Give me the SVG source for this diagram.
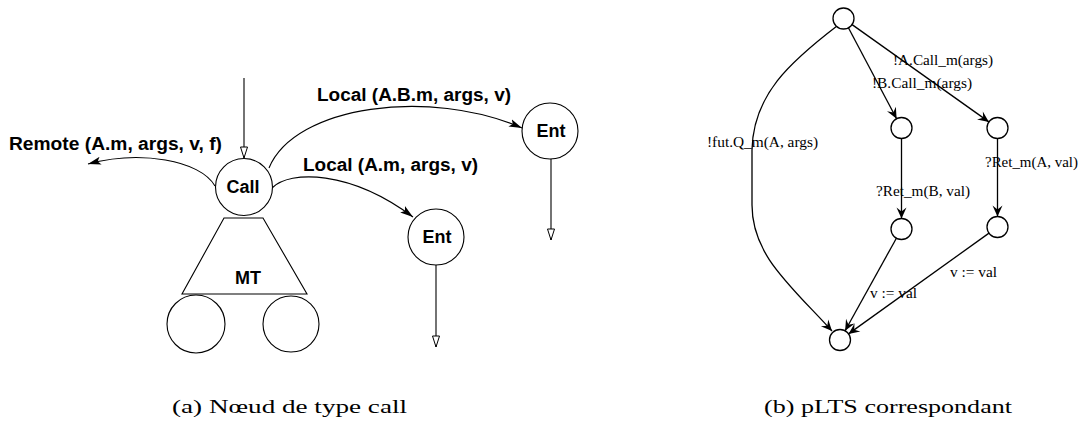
<svg xmlns="http://www.w3.org/2000/svg" width="1084" height="423" viewBox="0 0 1084 423">
<style>
  .node { fill: #fff; stroke: #000; stroke-width: 1.1; }
  .pnode { fill: #fff; stroke: #000; stroke-width: 1.3; }
  .edge { fill: none; stroke: #000; stroke-width: 1.1; }
  .pedge { fill: none; stroke: #000; stroke-width: 1.3; }
  .lbl { font-family: "Liberation Sans", Arial, sans-serif; font-weight: bold; font-size: 18px; fill: #000; }
  .tl { font-family: "Liberation Serif", "Times New Roman", serif; font-size: 15px; fill: #000; }
  .cap { font-family: "Liberation Serif", "Times New Roman", serif; font-size: 18px; fill: #000; }
</style>
<defs>
  <marker id="filled" markerUnits="userSpaceOnUse" viewBox="-13 -5 14 10" markerWidth="14" markerHeight="10" refX="0" refY="0" orient="auto">
    <path d="M0,0 L-13,-4 L-10,0 L-13,4 z" fill="#000"/>
  </marker>
  <marker id="open" markerUnits="userSpaceOnUse" viewBox="-13 -5 14 10" markerWidth="14" markerHeight="10" refX="0" refY="0" orient="auto">
    <path d="M0,0 L-11,-3.5 L-11,3.5 z" fill="#fff" stroke="#000" stroke-width="1"/>
  </marker>
  <marker id="vee" markerUnits="userSpaceOnUse" viewBox="-12 -6 13 12" markerWidth="13" markerHeight="12" refX="0" refY="0" orient="auto">
    <path d="M0,0 L-11,-5 L-7,0 L-11,5 z" fill="#000"/>
  </marker>
</defs>

<g id="connectors">
  <!-- left diagram -->
  <line class="edge" x1="244" y1="78" x2="244" y2="158" marker-end="url(#open)"/>
  <path class="edge" d="M215,186 C200,160 140,150 88,164" marker-end="url(#filled)"/>
  <path class="edge" d="M269,168 C295,105 430,88 522,128" marker-end="url(#filled)"/>
  <path class="edge" d="M272,188 C290,170 350,170 413,217" marker-end="url(#filled)"/>
  <line class="edge" x1="551" y1="159" x2="551" y2="240" marker-end="url(#open)"/>
  <line class="edge" x1="436" y1="265" x2="436" y2="347" marker-end="url(#open)"/>
  <!-- right diagram -->
  <path class="pedge" d="M837,26 C790,62 753,95 752,150 L752,205 C752,255 790,285 832,331" marker-end="url(#vee)"/>
  <line class="pedge" x1="848.4" y1="27.8" x2="896.6" y2="118.7" marker-end="url(#vee)"/>
  <line class="pedge" x1="852.1" y1="24.6" x2="988.9" y2="121.9" marker-end="url(#vee)"/>
  <line class="pedge" x1="901.5" y1="138.5" x2="901.5" y2="218.5" marker-end="url(#vee)"/>
  <line class="pedge" x1="997.5" y1="138.5" x2="997.5" y2="216.5" marker-end="url(#vee)"/>
  <line class="pedge" x1="896.4" y1="238.2" x2="845.1" y2="330.8" marker-end="url(#vee)"/>
  <line class="pedge" x1="989" y1="233.1" x2="848.5" y2="333.9" marker-end="url(#vee)"/>
</g>

<g id="edge-labels">
  <text class="lbl" x="9" y="150" textLength="213" lengthAdjust="spacingAndGlyphs">Remote (A.m, args, v, f)</text>
  <text class="lbl" x="317" y="101" textLength="194" lengthAdjust="spacingAndGlyphs">Local (A.B.m, args, v)</text>
  <text class="lbl" x="303" y="171" textLength="175" lengthAdjust="spacingAndGlyphs">Local (A.m, args, v)</text>
  <text class="tl" x="893" y="65" textLength="100" lengthAdjust="spacingAndGlyphs">!A.Call_m(args)</text>
  <text class="tl" x="872" y="88" textLength="100" lengthAdjust="spacingAndGlyphs">!B.Call_m(args)</text>
  <text class="tl" x="707" y="147" textLength="111" lengthAdjust="spacingAndGlyphs">!fut.Q_m(A, args)</text>
  <text class="tl" x="876" y="196" textLength="94" lengthAdjust="spacingAndGlyphs">?Ret_m(B, val)</text>
  <text class="tl" x="985" y="167" textLength="93" lengthAdjust="spacingAndGlyphs">?Ret_m(A, val)</text>
  <text class="tl" x="870" y="298" textLength="47" lengthAdjust="spacingAndGlyphs">v := val</text>
  <text class="tl" x="950" y="277" textLength="47" lengthAdjust="spacingAndGlyphs">v := val</text>
</g>

<g id="call">
  <circle class="node" cx="244" cy="187" r="28.5"/>
  <text class="lbl" x="243" y="193" text-anchor="middle">Call</text>
</g>
<g id="mt">
  <polygon class="node" points="224,218 263,218 307,294 182,294"/>
  <text class="lbl" x="248" y="284" text-anchor="middle">MT</text>
</g>
<g id="child-left">
  <circle class="node" cx="196" cy="324" r="29"/>
</g>
<g id="child-right">
  <circle class="node" cx="291" cy="324" r="28"/>
</g>
<g id="ent-upper">
  <circle class="node" cx="550" cy="131" r="28"/>
  <text class="lbl" x="551" y="137" text-anchor="middle">Ent</text>
</g>
<g id="ent-lower">
  <circle class="node" cx="436" cy="237" r="28"/>
  <text class="lbl" x="437" y="243" text-anchor="middle">Ent</text>
</g>

<g id="s0"><circle class="pnode" cx="843.5" cy="18.5" r="10.5"/></g>
<g id="s1"><circle class="pnode" cx="901.5" cy="128" r="10.5"/></g>
<g id="s2"><circle class="pnode" cx="997.5" cy="128" r="10.5"/></g>
<g id="s3"><circle class="pnode" cx="901.5" cy="229" r="10.5"/></g>
<g id="s4"><circle class="pnode" cx="997.5" cy="227" r="10.5"/></g>
<g id="s5"><circle class="pnode" cx="840" cy="340" r="10.5"/></g>

<g id="captions">
  <text class="cap" x="172" y="413" textLength="235" lengthAdjust="spacingAndGlyphs">(a) Nœud de type call</text>
  <text class="cap" x="764" y="413" textLength="248" lengthAdjust="spacingAndGlyphs">(b) pLTS correspondant</text>
</g>
</svg>
